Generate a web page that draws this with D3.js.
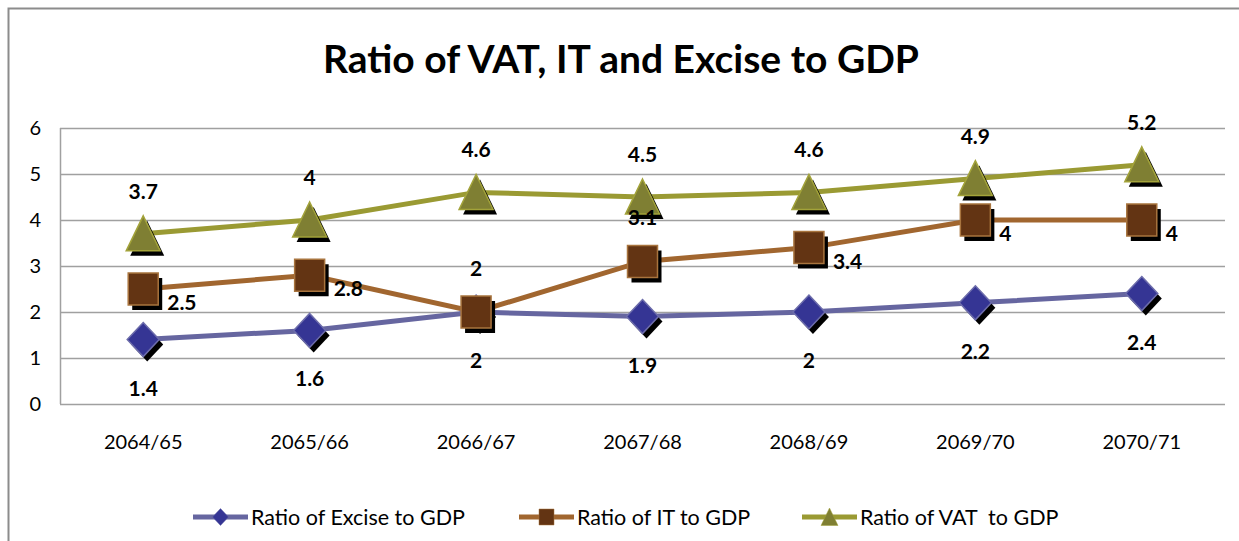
<!DOCTYPE html>
<html>
<head>
<meta charset="utf-8">
<script src="https://cdn.jsdelivr.net/npm/d3@7"></script>
<style>
  body { margin: 0; background: #fff; }
  svg { display: block; }
  text { font-family: Lato, "Open Sans", sans-serif; }
</style>
</head>
<body>
<div id="svg"></div>
<script>
// data
var years = ["2064/65", "2065/66", "2066/67", "2067/68", "2068/69", "2069/70", "2070/71"];
var excise = [1.4, 1.6, 2, 1.9, 2, 2.2, 2.4];
var incomeTax = [2.5, 2.8, 2, 3.1, 3.4, 4, 4];
var vat = [3.7, 4, 4.6, 4.5, 4.6, 4.9, 5.2];
var yTicks = [0, 1, 2, 3, 4, 5, 6];
// where the IT labels sit
var itLabelPos = ["right", "right", "above", "above", "right", "right", "right"];

var W = 1239, H = 541;
var margin = {top: 128, right: 14, bottom: 137, left: 60},
    width = W - margin.left - margin.right,
    height = H - margin.top - margin.bottom;

var root = d3.select("#svg").append("svg")
    .attr("width", W)
    .attr("height", H);

// outer chart border
root.append("rect")
  .attr("x", 8.5).attr("y", 8.5)
  .attr("width", W + 20).attr("height", H + 20)
  .style("fill", "none")
  .style("stroke", "#8c8c8c")
  .style("stroke-width", 2);

root.append("text")
  .attr("x", 621)
  .attr("y", 73)
  .attr("text-anchor", "middle")
  .style("font-size", "39px")
  .style("font-weight", "bold")
  .text("Ratio of VAT, IT and Excise to GDP");

var svg = root.append("g")
  .attr("transform", "translate(" + margin.left + "," + margin.top + ")");

var x = d3.scaleBand()
  .domain(years)
  .range([0, width]);

var y = d3.scaleLinear()
  .domain([0, 6])
  .range([height, 0]);

// gridlines
svg.append("g")
  .selectAll("line")
  .data(yTicks)
  .enter()
  .append("line")
    .attr("x1", 0)
    .attr("x2", width)
    .attr("y1", function(d) { return y(d) + 0.5; })
    .attr("y2", function(d) { return y(d) + 0.5; })
    .style("stroke", "#a0a0a0")
    .style("stroke-width", 1.5);

svg.append("line")
  .attr("x1", 0.5).attr("x2", 0.5)
  .attr("y1", 0).attr("y2", height)
  .style("stroke", "#a0a0a0")
  .style("stroke-width", 1.5);

// Y axis labels
var yAxis = svg.append("g")
  .call(d3.axisLeft(y).tickValues(yTicks).tickSize(0).tickPadding(19).tickFormat(d3.format("d")));
yAxis.select(".domain").remove();
yAxis.selectAll("text")
  .style("font-family", "Lato, sans-serif")
  .style("font-size", "20px")
  .style("fill", "#000");

// X axis labels
var xAxis = svg.append("g")
  .attr("transform", "translate(0," + height + ")")
  .call(d3.axisBottom(x).tickSize(0).tickPadding(31));
xAxis.select(".domain").remove();
xAxis.selectAll("text")
  .style("font-family", "Lato, sans-serif")
  .style("font-size", "20px")
  .style("fill", "#000");

var cx = function(i) { return x(years[i]) + x.bandwidth() / 2; };

var series = [
  {name: "Ratio of Excise to GDP", values: excise, line: "#6666a0", fill: "#353594", edge: "#6d6dab", shape: "diamond"},
  {name: "Ratio of IT to GDP", values: incomeTax, line: "#a1662f", fill: "#633413", edge: "#a8743e", shape: "square"},
  {name: "Ratio of VAT  to GDP", values: vat, line: "#9a9a33", fill: "#7f7f33", edge: "#a3a33a", shape: "triangle"}
];

function shapePath(shape) {
  if (shape == "diamond") return "M0,-17 L16,0 L0,17 L-16,0 Z";
  if (shape == "square") return "M-15,-16 L15,-16 L15,16 L-15,16 Z";
  return "M0,-18 L17,17 L-17,17 Z";
}

series.forEach(function(s) {
  var line = d3.line()
    .x(function(d, i) { return cx(i); })
    .y(function(d) { return y(d); });
  svg.append("path")
    .datum(s.values)
    .attr("d", line)
    .style("fill", "none")
    .style("stroke", s.line)
    .style("stroke-width", 5);
});

// markers go on top of all lines
series.forEach(function(s) {
  var g = svg.append("g");
  g.selectAll(".shadow")
    .data(s.values)
    .enter()
    .append("path")
      .attr("d", shapePath(s.shape))
      .attr("transform", function(d, i) { return "translate(" + (cx(i) + 4) + "," + (y(d) + 5) + ")"; })
      .style("fill", "#000");
  g.selectAll(".mark")
    .data(s.values)
    .enter()
    .append("path")
      .attr("d", shapePath(s.shape))
      .attr("transform", function(d, i) { return "translate(" + cx(i) + "," + y(d) + ")"; })
      .style("fill", s.fill)
      .style("stroke", s.edge)
      .style("stroke-width", 1.5);
});

// data labels
var lab = svg.append("g")
  .style("font-size", "21px")
  .style("font-weight", "bold");

lab.selectAll(".ex")
  .data(excise)
  .enter()
  .append("text")
    .attr("x", function(d, i) { return cx(i); })
    .attr("y", function(d) { return y(d) + 56; })
    .attr("text-anchor", "middle")
    .text(function(d) { return d; });

lab.selectAll(".vat")
  .data(vat)
  .enter()
  .append("text")
    .attr("x", function(d, i) { return cx(i); })
    .attr("y", function(d) { return y(d) - 35; })
    .attr("text-anchor", "middle")
    .text(function(d) { return d; });

lab.selectAll(".it")
  .data(incomeTax)
  .enter()
  .append("text")
    .attr("x", function(d, i) { return itLabelPos[i] == "above" ? cx(i) : cx(i) + 24; })
    .attr("y", function(d, i) { return itLabelPos[i] == "above" ? y(d) - 36 : y(d) + 21; })
    .attr("text-anchor", function(d, i) { return itLabelPos[i] == "above" ? "middle" : "start"; })
    .text(function(d) { return d; });

// legend
var legendX = [193, 519, 802];
var leg = root.append("g").attr("transform", "translate(0,517)");
series.forEach(function(s, i) {
  var g = leg.append("g").attr("transform", "translate(" + legendX[i] + ",0)");
  g.append("line")
    .attr("x1", 0).attr("x2", 55)
    .style("stroke", s.line)
    .style("stroke-width", 5);
  g.append("path")
    .attr("d", shapePath(s.shape))
    .attr("transform", "translate(27.5,0) scale(0.5)")
    .style("fill", s.fill)
    .style("stroke", s.edge);
  g.append("text")
    .attr("x", 58)
    .attr("y", 8)
    .style("font-size", "21.5px")
    .style("white-space", "pre")
    .text(s.name);
});
</script>
</body>
</html>
